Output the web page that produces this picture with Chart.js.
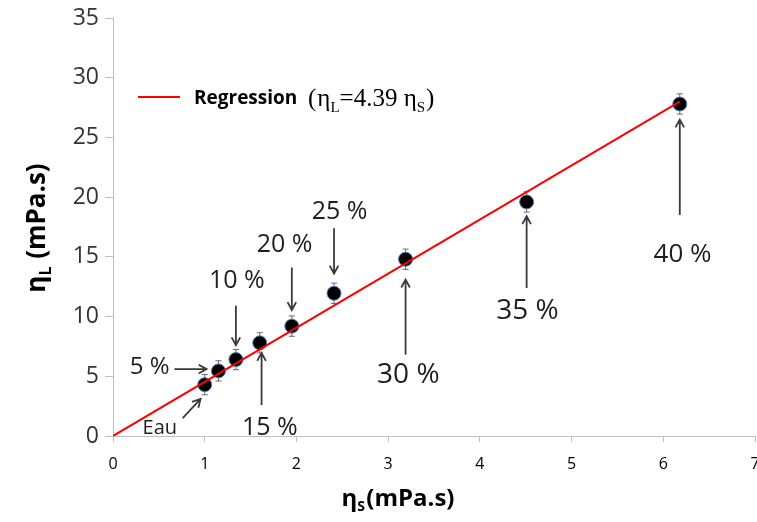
<!DOCTYPE html>
<html>
<head>
<meta charset="utf-8">
<script src="https://cdn.jsdelivr.net/npm/chart.js@4.4.1/dist/chart.umd.min.js"></script>
<style>
    html, body { margin: 0; padding: 0; background: #fff; }
    #wrap { width: 757px; height: 522px; }
</style>
</head>
<body>
<div id="wrap"><canvas id="chart" width="757" height="522"></canvas></div>
<script>
// 測定データ (ηS, ηL)
const concentrations = ['Eau', '5 %', '10 %', '15 %', '20 %', '25 %', '30 %', '35 %', '40 %'];
const etaS = [1.00, 1.15, 1.34, 1.60, 1.95, 2.41, 3.19, 4.51, 6.18];
const etaL = [4.3, 5.45, 6.4, 7.8, 9.2, 11.95, 14.8, 19.6, 27.8];
const etaLError = [0.85, 0.85, 0.85, 0.85, 0.85, 0.85, 0.85, 0.85, 0.85];

// 回帰直線
const regressionX = [0, 6.18];
const regressionY = [0, 28.0];

const xTicks = [0, 1, 2, 3, 4, 5, 6, 7];
const yTicks = [0, 5, 10, 15, 20, 25, 30, 35];

// 注記 (ラベル位置と矢印, データ座標)
const notes = [
    { text: 'Eau',  tx: 0.51, ty: 0.67, size: 20, from: [0.76, 1.5],  to: [0.955, 3.1] },
    { text: '5 %',  tx: 0.40, ty: 5.78, size: 24, from: [0.67, 5.6],  to: [1.02, 5.6] },
    { text: '10 %', tx: 1.35, ty: 13.0, size: 25, from: [1.34, 10.9], to: [1.34, 7.6] },
    { text: '15 %', tx: 1.71, ty: 0.67, size: 25, from: [1.62, 2.6],  to: [1.62, 6.95] },
    { text: '20 %', tx: 1.87, ty: 16.0, size: 25, from: [1.95, 14.1], to: [1.95, 10.55] },
    { text: '25 %', tx: 2.47, ty: 18.75, size: 25, from: [2.41, 17.4], to: [2.41, 13.6] },
    { text: '30 %', tx: 3.22, ty: 5.1,  size: 28, from: [3.19, 6.8],  to: [3.19, 13.1] },
    { text: '35 %', tx: 4.52, ty: 10.5, size: 28, from: [4.51, 12.4], to: [4.51, 18.4] },
    { text: '40 %', tx: 6.21, ty: 15.2, size: 26, from: [6.18, 18.5], to: [6.18, 26.5] }
];

const FONT = '"Open Sans", sans-serif';

// η と下付き文字を描画
function drawEta(ctx, x, y, sub, size, family, weight) {
    ctx.font = `${weight} ${size}px ${family}`;
    ctx.fillText('η', x, y);
    const w = ctx.measureText('η').width;
    ctx.font = `${weight} ${Math.round(size * 0.6)}px ${family}`;
    ctx.fillText(sub, x + w, y + size * 0.22);
    return w + ctx.measureText(sub).width;
}

function drawArrow(ctx, x1, y1, x2, y2) {
    const ang = Math.atan2(y2 - y1, x2 - x1);
    const head = 9;
    ctx.beginPath();
    ctx.moveTo(x1, y1);
    ctx.lineTo(x2, y2);
    ctx.moveTo(x2 - head * Math.cos(ang - 0.5), y2 - head * Math.sin(ang - 0.5));
    ctx.lineTo(x2, y2);
    ctx.lineTo(x2 - head * Math.cos(ang + 0.5), y2 - head * Math.sin(ang + 0.5));
    ctx.stroke();
}

const errorBarPlugin = {
    id: 'errorBars',
    beforeDatasetsDraw(chart) {
        const { ctx, scales: { x, y } } = chart;
        ctx.save();
        ctx.strokeStyle = '#6a6a6a';
        ctx.lineWidth = 1;
        etaS.forEach((v, i) => {
            const px = x.getPixelForValue(v);
            const top = y.getPixelForValue(etaL[i] + etaLError[i]);
            const bot = y.getPixelForValue(etaL[i] - etaLError[i]);
            ctx.beginPath();
            ctx.moveTo(px, top); ctx.lineTo(px, bot);
            ctx.moveTo(px - 3, top); ctx.lineTo(px + 3, top);
            ctx.moveTo(px - 3, bot); ctx.lineTo(px + 3, bot);
            ctx.stroke();
        });
        ctx.restore();
    }
};

const decorationPlugin = {
    id: 'decorations',
    afterDraw(chart) {
        const { ctx, scales: { x, y } } = chart;
        ctx.save();

        // 注記
        ctx.strokeStyle = '#3a3a3a';
        ctx.lineWidth = 1.8;
        ctx.fillStyle = '#1e1e1e';
        ctx.textAlign = 'center';
        ctx.textBaseline = 'middle';
        notes.forEach(n => {
            drawArrow(ctx,
                x.getPixelForValue(n.from[0]), y.getPixelForValue(n.from[1]),
                x.getPixelForValue(n.to[0]), y.getPixelForValue(n.to[1]));
            ctx.font = `${n.size}px ${FONT}`;
            ctx.fillText(n.text, x.getPixelForValue(n.tx), y.getPixelForValue(n.ty));
        });

        // 凡例
        ctx.strokeStyle = '#ff0000';
        ctx.lineWidth = 2;
        ctx.beginPath();
        ctx.moveTo(138, 97); ctx.lineTo(180, 97);
        ctx.stroke();
        ctx.fillStyle = '#000';
        ctx.textAlign = 'left';
        ctx.textBaseline = 'alphabetic';
        ctx.font = `bold 19px ${FONT}`;
        ctx.fillText('Regression', 194, 104);
        const serif = '"Liberation Serif", serif';
        const fs = 25;
        let cx = 308;
        ctx.font = `${fs}px ${serif}`;
        ctx.fillText('(', cx, 106);
        cx += ctx.measureText('(').width + 1;
        cx += drawEta(ctx, cx, 106, 'L', fs, serif, 'normal');
        ctx.font = `${fs}px ${serif}`;
        const eq = '=4.39 ';
        ctx.fillText(eq, cx, 106);
        cx += ctx.measureText(eq).width;
        cx += drawEta(ctx, cx, 106, 'S', fs, serif, 'normal');
        ctx.font = `${fs}px ${serif}`;
        ctx.fillText(')', cx + 1, 106);

        // 軸タイトル
        ctx.save();
        ctx.translate(45, 228);
        ctx.rotate(-Math.PI / 2);
        ctx.textAlign = 'left';
        const yt = ' (mPa.s)';
        ctx.font = `bold 26px ${FONT}`;
        const etaW = ctx.measureText('η').width + 10;
        const totalW = etaW + ctx.measureText(yt).width;
        const sx = -totalW / 2;
        drawEta(ctx, sx, 0, 'L', 26, FONT, 'bold');
        ctx.font = `bold 26px ${FONT}`;
        ctx.fillText(yt, sx + etaW, 0);
        ctx.restore();

        ctx.font = `bold 24px ${FONT}`;
        const xt = '(mPa.s)';
        const xEtaW = ctx.measureText('η').width + 9;
        const xTotal = xEtaW + ctx.measureText(xt).width;
        const xsx = 398 - xTotal / 2;
        drawEta(ctx, xsx, 506, 'S', 24, FONT, 'bold');
        ctx.font = `bold 24px ${FONT}`;
        ctx.fillText(xt, xsx + xEtaW, 506);

        ctx.restore();
    }
};

const canvas = document.getElementById('chart');
new Chart(canvas, {
    type: 'scatter',
    data: {
        datasets: [
            {
                label: 'Regression',
                type: 'line',
                data: regressionX.map((v, i) => ({ x: v, y: regressionY[i] })),
                borderColor: '#ff0000',
                borderWidth: 2,
                pointRadius: 0,
                fill: false
            },
            {
                label: 'Mesures',
                data: etaS.map((v, i) => ({ x: v, y: etaL[i] })),
                backgroundColor: '#000',
                borderColor: '#4f81bd',
                borderWidth: 1,
                pointRadius: 7
            }
        ]
    },
    options: {
        responsive: false,
        animation: false,
        layout: { autoPadding: false, padding: { top: 18, right: 2, left: 0, bottom: 0 } },
        plugins: {
            legend: { display: false },
            tooltip: { enabled: false }
        },
        scales: {
            x: {
                type: 'linear',
                min: 0,
                max: 7,
                afterBuildTicks: s => { s.ticks = xTicks.map(v => ({ value: v })); },
                afterFit: s => { s.height = 86; s.paddingLeft = 0; s.paddingRight = 0; },
                border: { color: '#bfbfbf' },
                grid: { drawOnChartArea: false, color: '#bfbfbf', tickLength: 6 },
                ticks: { color: '#000', font: { family: FONT, size: 16 }, padding: 13 }
            },
            y: {
                type: 'linear',
                min: 0,
                max: 35,
                afterBuildTicks: s => { s.ticks = yTicks.map(v => ({ value: v })); },
                afterFit: s => { s.width = 113; s.paddingTop = 0; s.paddingBottom = 0; },
                border: { color: '#bfbfbf' },
                grid: { drawOnChartArea: false, color: '#bfbfbf', tickLength: 8 },
                ticks: { color: '#333', font: { family: FONT, size: 23 }, padding: 6 }
            }
        }
    },
    plugins: [errorBarPlugin, decorationPlugin]
});
</script>
</body>
</html>
